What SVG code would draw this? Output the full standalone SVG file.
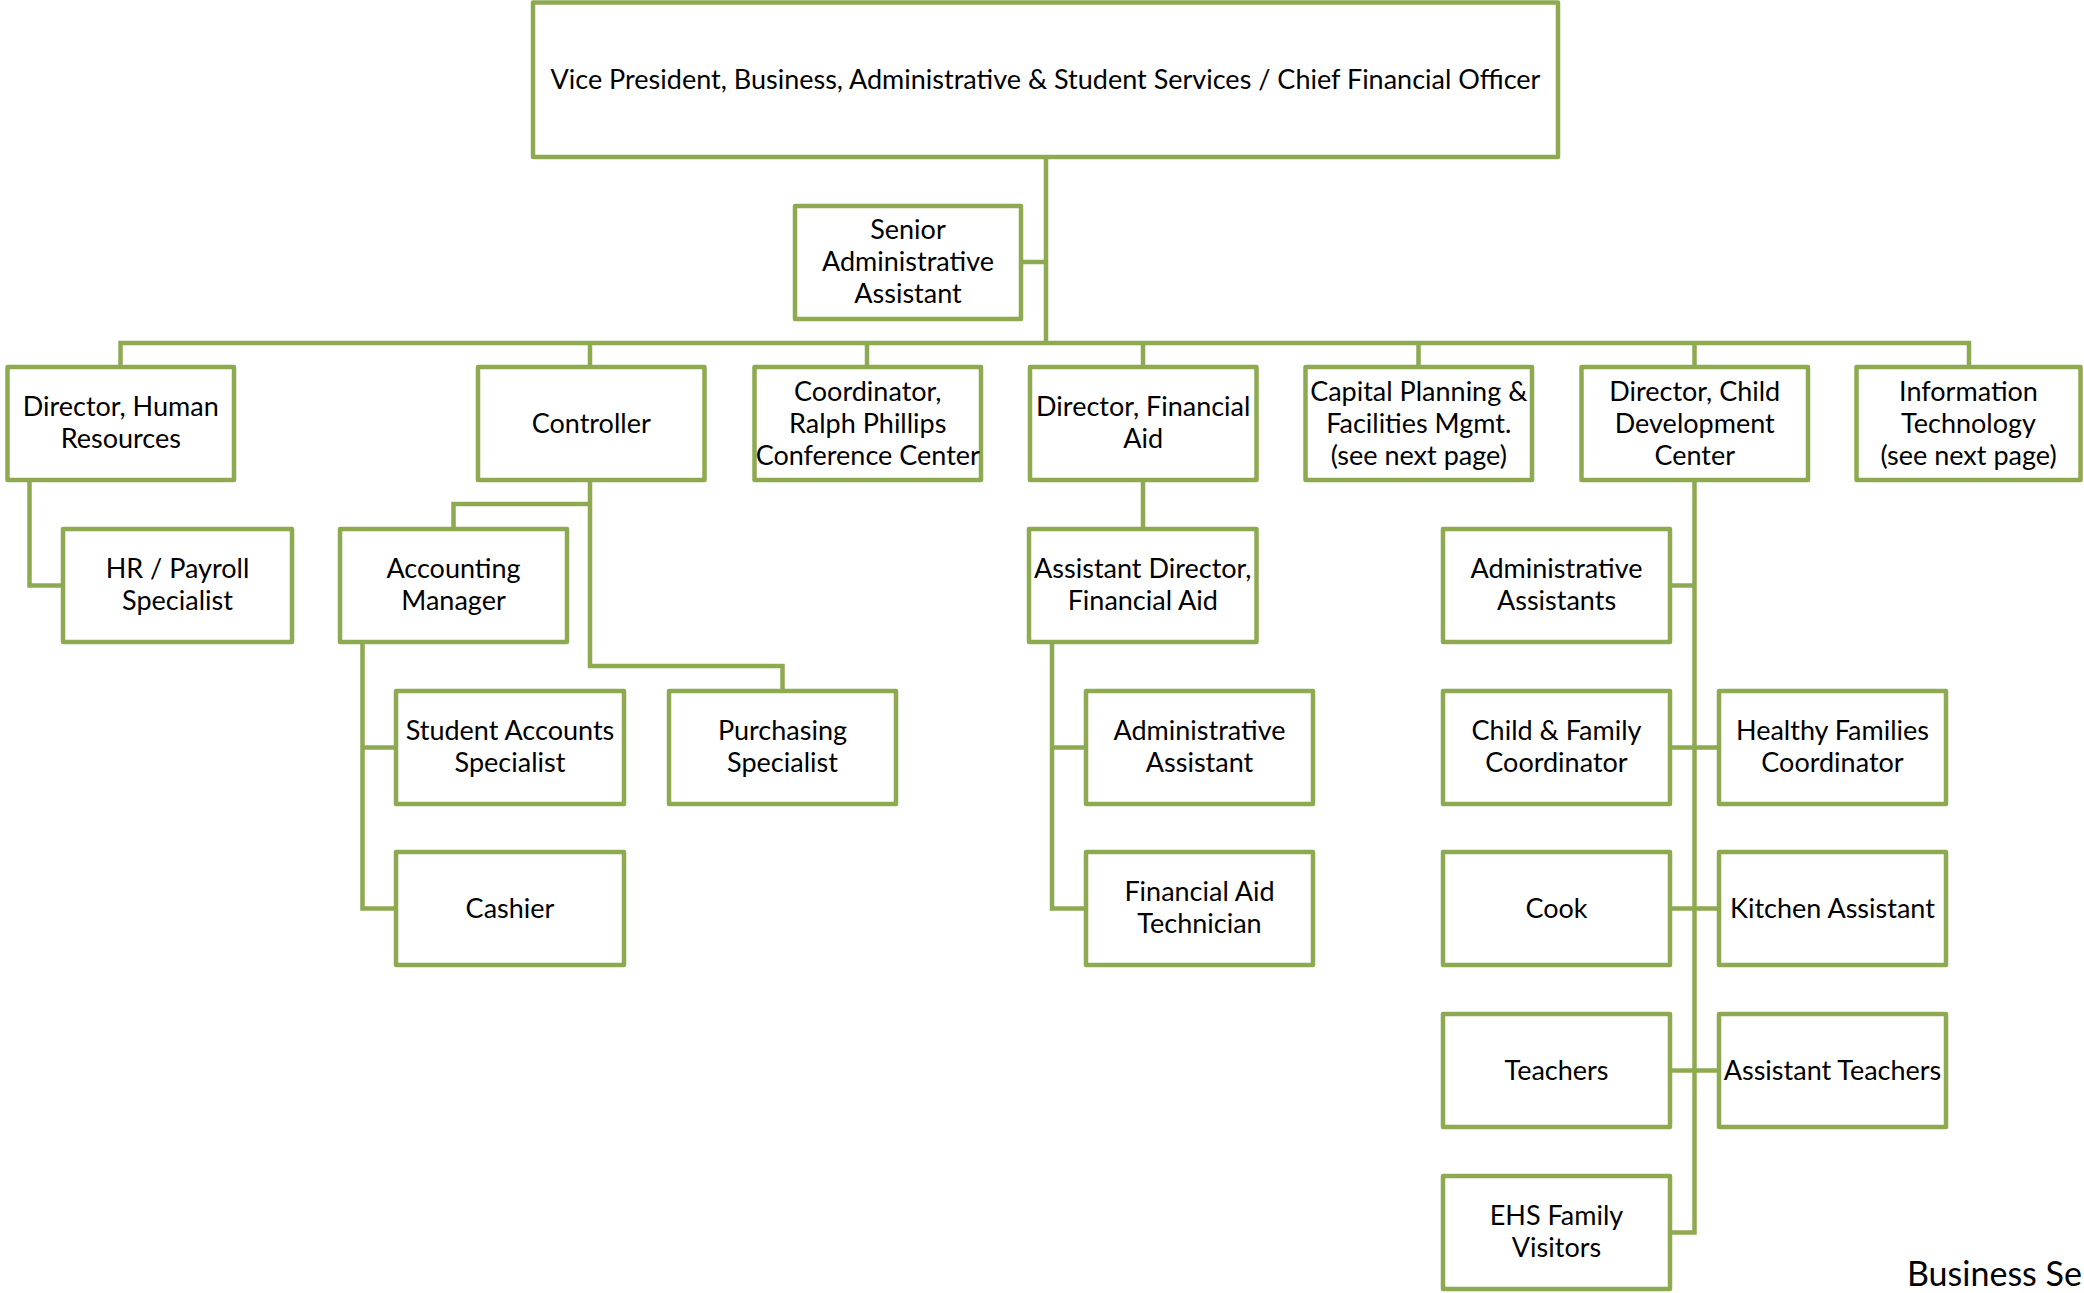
<svg xmlns="http://www.w3.org/2000/svg" width="2084" height="1293" viewBox="0 0 2084 1293">
<style>
.box{fill:#ffffff;stroke:#8EAA50;stroke-width:4.5;stroke-linejoin:round}
.conn{fill:none;stroke:#8EAA50;stroke-width:4.5;stroke-linejoin:miter}
text{font-family:Lato,"Liberation Sans",sans-serif;font-size:27px;fill:#000;text-anchor:middle}
.foot{font-size:34px;text-anchor:start}
</style>
<rect width="2084" height="1293" fill="#ffffff"/>
<g id="connectors">
<polyline class="conn" points="1046,157 1046,343"/>
<polyline class="conn" points="1021,262 1046,262"/>
<polyline class="conn" points="120.5,367 120.5,343 1969,343 1969,367"/>
<polyline class="conn" points="590,343 590,367"/>
<polyline class="conn" points="867,343 867,367"/>
<polyline class="conn" points="1143,343 1143,367"/>
<polyline class="conn" points="1418.5,343 1418.5,367"/>
<polyline class="conn" points="1694.5,343 1694.5,367"/>
<polyline class="conn" points="29.5,480 29.5,585.5 63,585.5"/>
<polyline class="conn" points="590,480 590,666 782.5,666 782.5,691"/>
<polyline class="conn" points="590,504 453.5,504 453.5,529"/>
<polyline class="conn" points="362.5,642 362.5,908.5 396,908.5"/>
<polyline class="conn" points="362.5,747.5 396,747.5"/>
<polyline class="conn" points="1143,480 1143,529"/>
<polyline class="conn" points="1052,642 1052,908.5 1086,908.5"/>
<polyline class="conn" points="1052,747.5 1086,747.5"/>
<polyline class="conn" points="1694.5,480 1694.5,1232.5 1670,1232.5"/>
<polyline class="conn" points="1670,585.5 1694.5,585.5"/>
<polyline class="conn" points="1670,747.5 1719,747.5"/>
<polyline class="conn" points="1670,908.5 1719,908.5"/>
<polyline class="conn" points="1670,1070.5 1719,1070.5"/>
</g>
<g id="vp"><rect class="box" x="533" y="2.5" width="1025" height="154.5"/><text x="1045.5" y="89">Vice President, Business, Administrative &amp; Student Services / Chief Financial Officer</text></g>
<g id="senior"><rect class="box" x="795" y="206" width="226" height="113"/><text x="908" y="239">Senior</text><text x="908" y="271">Administrative</text><text x="908" y="303">Assistant</text></g>
<g id="dir-hr"><rect class="box" x="7.5" y="367" width="226.5" height="113"/><text x="120.75" y="416">Director, Human</text><text x="120.75" y="448">Resources</text></g>
<g id="controller"><rect class="box" x="478" y="367" width="226.5" height="113"/><text x="591.25" y="432.5">Controller</text></g>
<g id="coordinator"><rect class="box" x="754.5" y="367" width="226.5" height="113"/><text x="867.75" y="400.5">Coordinator,</text><text x="867.75" y="432.5">Ralph Phillips</text><text x="867.75" y="464.5">Conference Center</text></g>
<g id="dir-fa"><rect class="box" x="1030" y="367" width="226.5" height="113"/><text x="1143.25" y="416">Director, Financial</text><text x="1143.25" y="448">Aid</text></g>
<g id="capital"><rect class="box" x="1305.5" y="367" width="226.5" height="113"/><text x="1418.75" y="400.5">Capital Planning &amp;</text><text x="1418.75" y="432.5">Facilities Mgmt.</text><text x="1418.75" y="464.5">(see next page)</text></g>
<g id="dir-child"><rect class="box" x="1581.5" y="367" width="226.5" height="113"/><text x="1694.75" y="400.5">Director, Child</text><text x="1694.75" y="432.5">Development</text><text x="1694.75" y="464.5">Center</text></g>
<g id="it"><rect class="box" x="1856.5" y="367" width="224" height="113"/><text x="1968.5" y="400.5">Information</text><text x="1968.5" y="432.5">Technology</text><text x="1968.5" y="464.5">(see next page)</text></g>
<g id="hr-payroll"><rect class="box" x="63" y="529" width="229" height="113"/><text x="177.5" y="578">HR / Payroll</text><text x="177.5" y="610">Specialist</text></g>
<g id="accounting"><rect class="box" x="340" y="529" width="227" height="113"/><text x="453.5" y="578">Accounting</text><text x="453.5" y="610">Manager</text></g>
<g id="asst-dir-fa"><rect class="box" x="1029" y="529" width="227.5" height="113"/><text x="1142.75" y="578">Assistant Director,</text><text x="1142.75" y="610">Financial Aid</text></g>
<g id="admin-assistants"><rect class="box" x="1443" y="529" width="227" height="113"/><text x="1556.5" y="578">Administrative</text><text x="1556.5" y="610">Assistants</text></g>
<g id="student-accounts"><rect class="box" x="396" y="691" width="228" height="113"/><text x="510" y="740">Student Accounts</text><text x="510" y="772">Specialist</text></g>
<g id="purchasing"><rect class="box" x="669" y="691" width="227" height="113"/><text x="782.5" y="740">Purchasing</text><text x="782.5" y="772">Specialist</text></g>
<g id="admin-asst-fa"><rect class="box" x="1086" y="691" width="227" height="113"/><text x="1199.5" y="740">Administrative</text><text x="1199.5" y="772">Assistant</text></g>
<g id="child-family"><rect class="box" x="1443" y="691" width="227" height="113"/><text x="1556.5" y="740">Child &amp; Family</text><text x="1556.5" y="772">Coordinator</text></g>
<g id="healthy-families"><rect class="box" x="1719" y="691" width="227" height="113"/><text x="1832.5" y="740">Healthy Families</text><text x="1832.5" y="772">Coordinator</text></g>
<g id="cashier"><rect class="box" x="396" y="852" width="228" height="113"/><text x="510" y="918">Cashier</text></g>
<g id="fa-tech"><rect class="box" x="1086" y="852" width="227" height="113"/><text x="1199.5" y="901">Financial Aid</text><text x="1199.5" y="933">Technician</text></g>
<g id="cook"><rect class="box" x="1443" y="852" width="227" height="113"/><text x="1556.5" y="918">Cook</text></g>
<g id="kitchen"><rect class="box" x="1719" y="852" width="227" height="113"/><text x="1832.5" y="918">Kitchen Assistant</text></g>
<g id="teachers"><rect class="box" x="1443" y="1014" width="227" height="113"/><text x="1556.5" y="1080">Teachers</text></g>
<g id="asst-teachers"><rect class="box" x="1719" y="1014" width="227" height="113"/><text x="1832.5" y="1080">Assistant Teachers</text></g>
<g id="ehs"><rect class="box" x="1443" y="1176" width="227" height="113"/><text x="1556.5" y="1225">EHS Family</text><text x="1556.5" y="1257">Visitors</text></g>
<text class="foot" x="1907" y="1286">Business Se</text>
</svg>
